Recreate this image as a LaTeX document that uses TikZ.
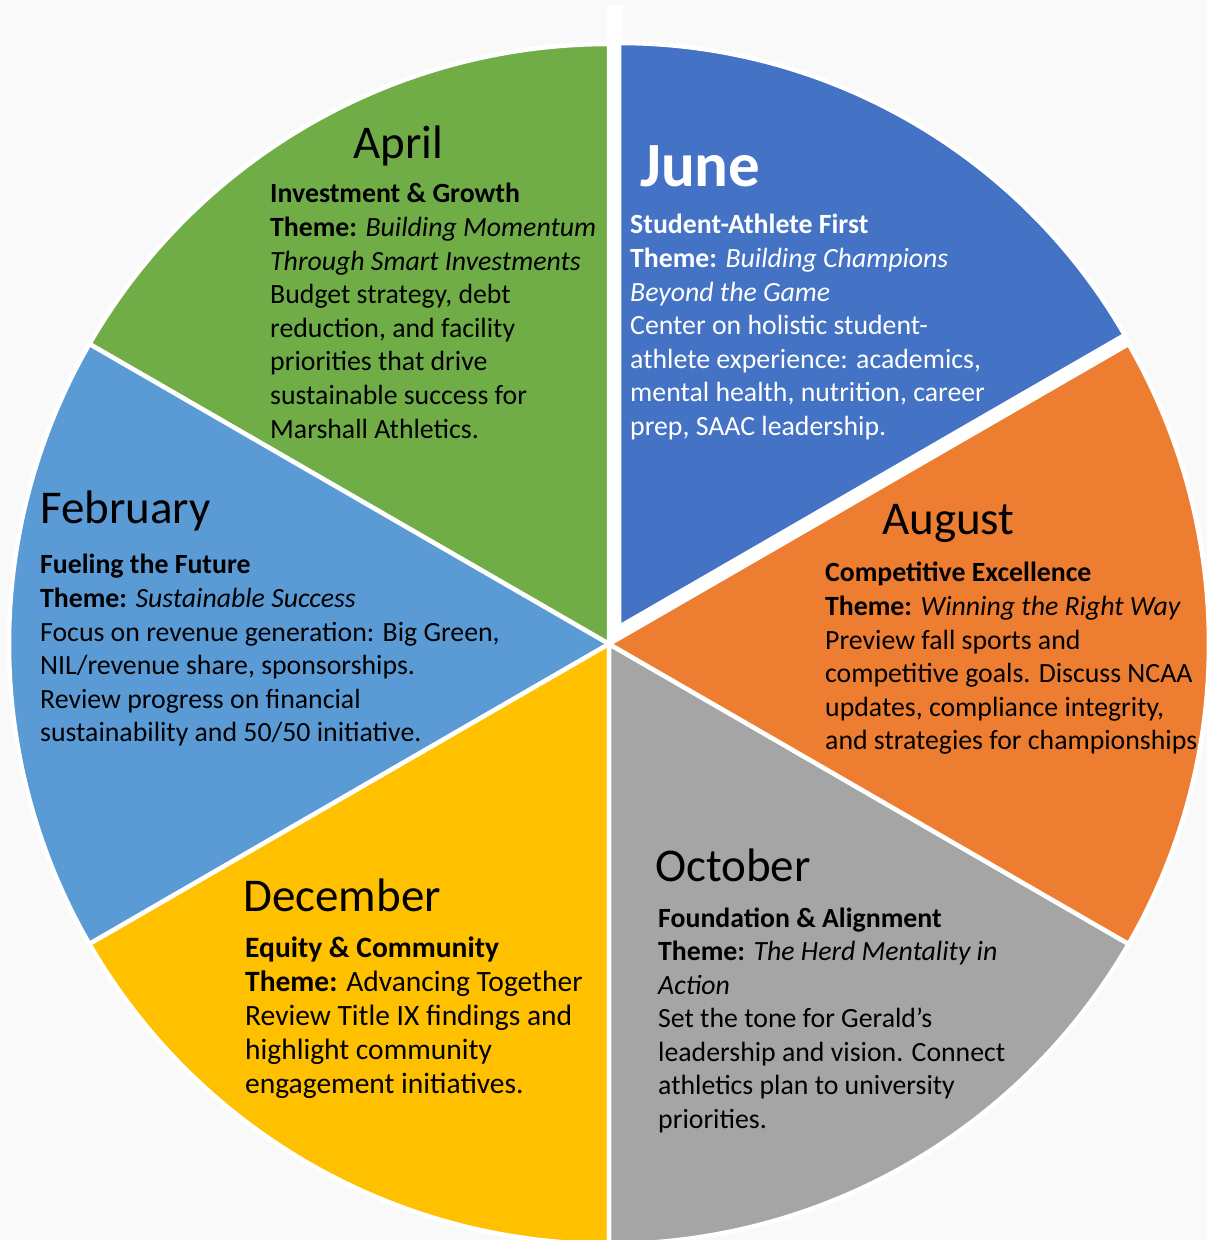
\documentclass[tikz,border=0pt]{standalone}
\usepackage{fontspec}
\setmainfont{Carlito}
\definecolor{cgreen}{HTML}{70AD47}
\definecolor{cblue}{HTML}{4472C4}
\definecolor{corange}{HTML}{ED7D31}
\definecolor{cgray}{HTML}{A5A5A5}
\definecolor{cgold}{HTML}{FFC000}
\definecolor{clblue}{HTML}{5B9BD5}
\definecolor{cbg}{HTML}{F9F9F9}
\begin{document}
\begin{tikzpicture}[x=1pt,y=1pt,
  slice/.style={draw=white, line width=4.5pt, line join=miter},
  month/.style={font=\fontsize{47}{56}\selectfont, anchor=base west, inner sep=0pt},
  body/.style={font=\fontsize{27.8}{33.6}\selectfont, align=left, anchor=base west, inner sep=0pt}]
\fill[cbg] (0,0) rectangle (1207,1240);
\useasboundingbox (0,0) rectangle (1207,1240);
\fill[white] (609,596) circle[radius=602];
\fill[white] (607,1195) rectangle (623,1235);
\begin{scope}[shift={(609,596)}]
  \draw[slice,fill=cgreen] (0,0) -- (90:600) arc[start angle=90,end angle=150,radius=600] -- cycle;
  \draw[slice,fill=clblue] (0,0) -- (150:600) arc[start angle=150,end angle=210,radius=600] -- cycle;
  \draw[slice,fill=cgold] (0,0) -- (210:600) arc[start angle=210,end angle=270,radius=600] -- cycle;
  \draw[slice,fill=cgray] (0,0) -- (270:600) arc[start angle=270,end angle=330,radius=600] -- cycle;
  \draw[slice,fill=corange] (0,0) -- (330:600) arc[start angle=330,end angle=390,radius=600] -- cycle;
\end{scope}
\begin{scope}[shift={(619,613)}]
  \draw[slice,fill=cblue] (0,0) -- (30:584) arc[start angle=30,end angle=90,radius=584] -- cycle;
\end{scope}

% April
\node[month] (aprT) at (353,1081) {April};
\node[body] (aprB) at (270,801.8) {\textbf{Investment \& Growth}\\
\textbf{Theme:} \textit{Building Momentum}\\
\textit{Through Smart Investments}\\
Budget strategy, debt\\
reduction, and facility\\
priorities that drive\\
sustainable success for\\
Marshall Athletics.};

% June
\node[month, font=\fontsize{63}{70}\selectfont\bfseries, text=white] (junT) at (640,1053) {June};
\node[body, text=white] (junB) at (630,804.4) {\textbf{Student-Athlete First}\\
\textbf{Theme:} \textit{Building Champions}\\
\textit{Beyond the Game}\\
Center on holistic student-\\
athlete experience: academics,\\
mental health, nutrition, career\\
prep, SAAC leadership.};

% August
\node[month] (augT) at (882,705) {August};
\node[body] (augB) at (825,490) {\textbf{Competitive Excellence}\\
\textbf{Theme:} \textit{Winning the Right Way}\\
Preview fall sports and\\
competitive goals. Discuss NCAA\\
updates, compliance integrity,\\
and strategies for championships};

% February
\node[month] (febT) at (40,716) {February};
\node[body] (febB) at (40,498) {\textbf{Fueling the Future}\\
\textbf{Theme:} \textit{Sustainable Success}\\
Focus on revenue generation: Big Green,\\
NIL/revenue share, sponsorships.\\
Review progress on financial\\
sustainability and 50/50 initiative.};

% December
\node[month] (decT) at (243,328) {December};
\node[body, font=\fontsize{29.5}{34}\selectfont] (decB) at (245,146) {\textbf{Equity \& Community}\\
\textbf{Theme:} Advancing Together\\
Review Title IX findings and\\
highlight community\\
engagement initiatives.};

% October
\node[month] (octT) at (655,358) {October};
\node[body] (octB) at (658,111.4) {\textbf{Foundation \& Alignment}\\
\textbf{Theme:} \textit{The Herd Mentality in}\\
\textit{Action}\\
Set the tone for Gerald’s\\
leadership and vision. Connect\\
athletics plan to university\\
priorities.};
\end{tikzpicture}
\end{document}
